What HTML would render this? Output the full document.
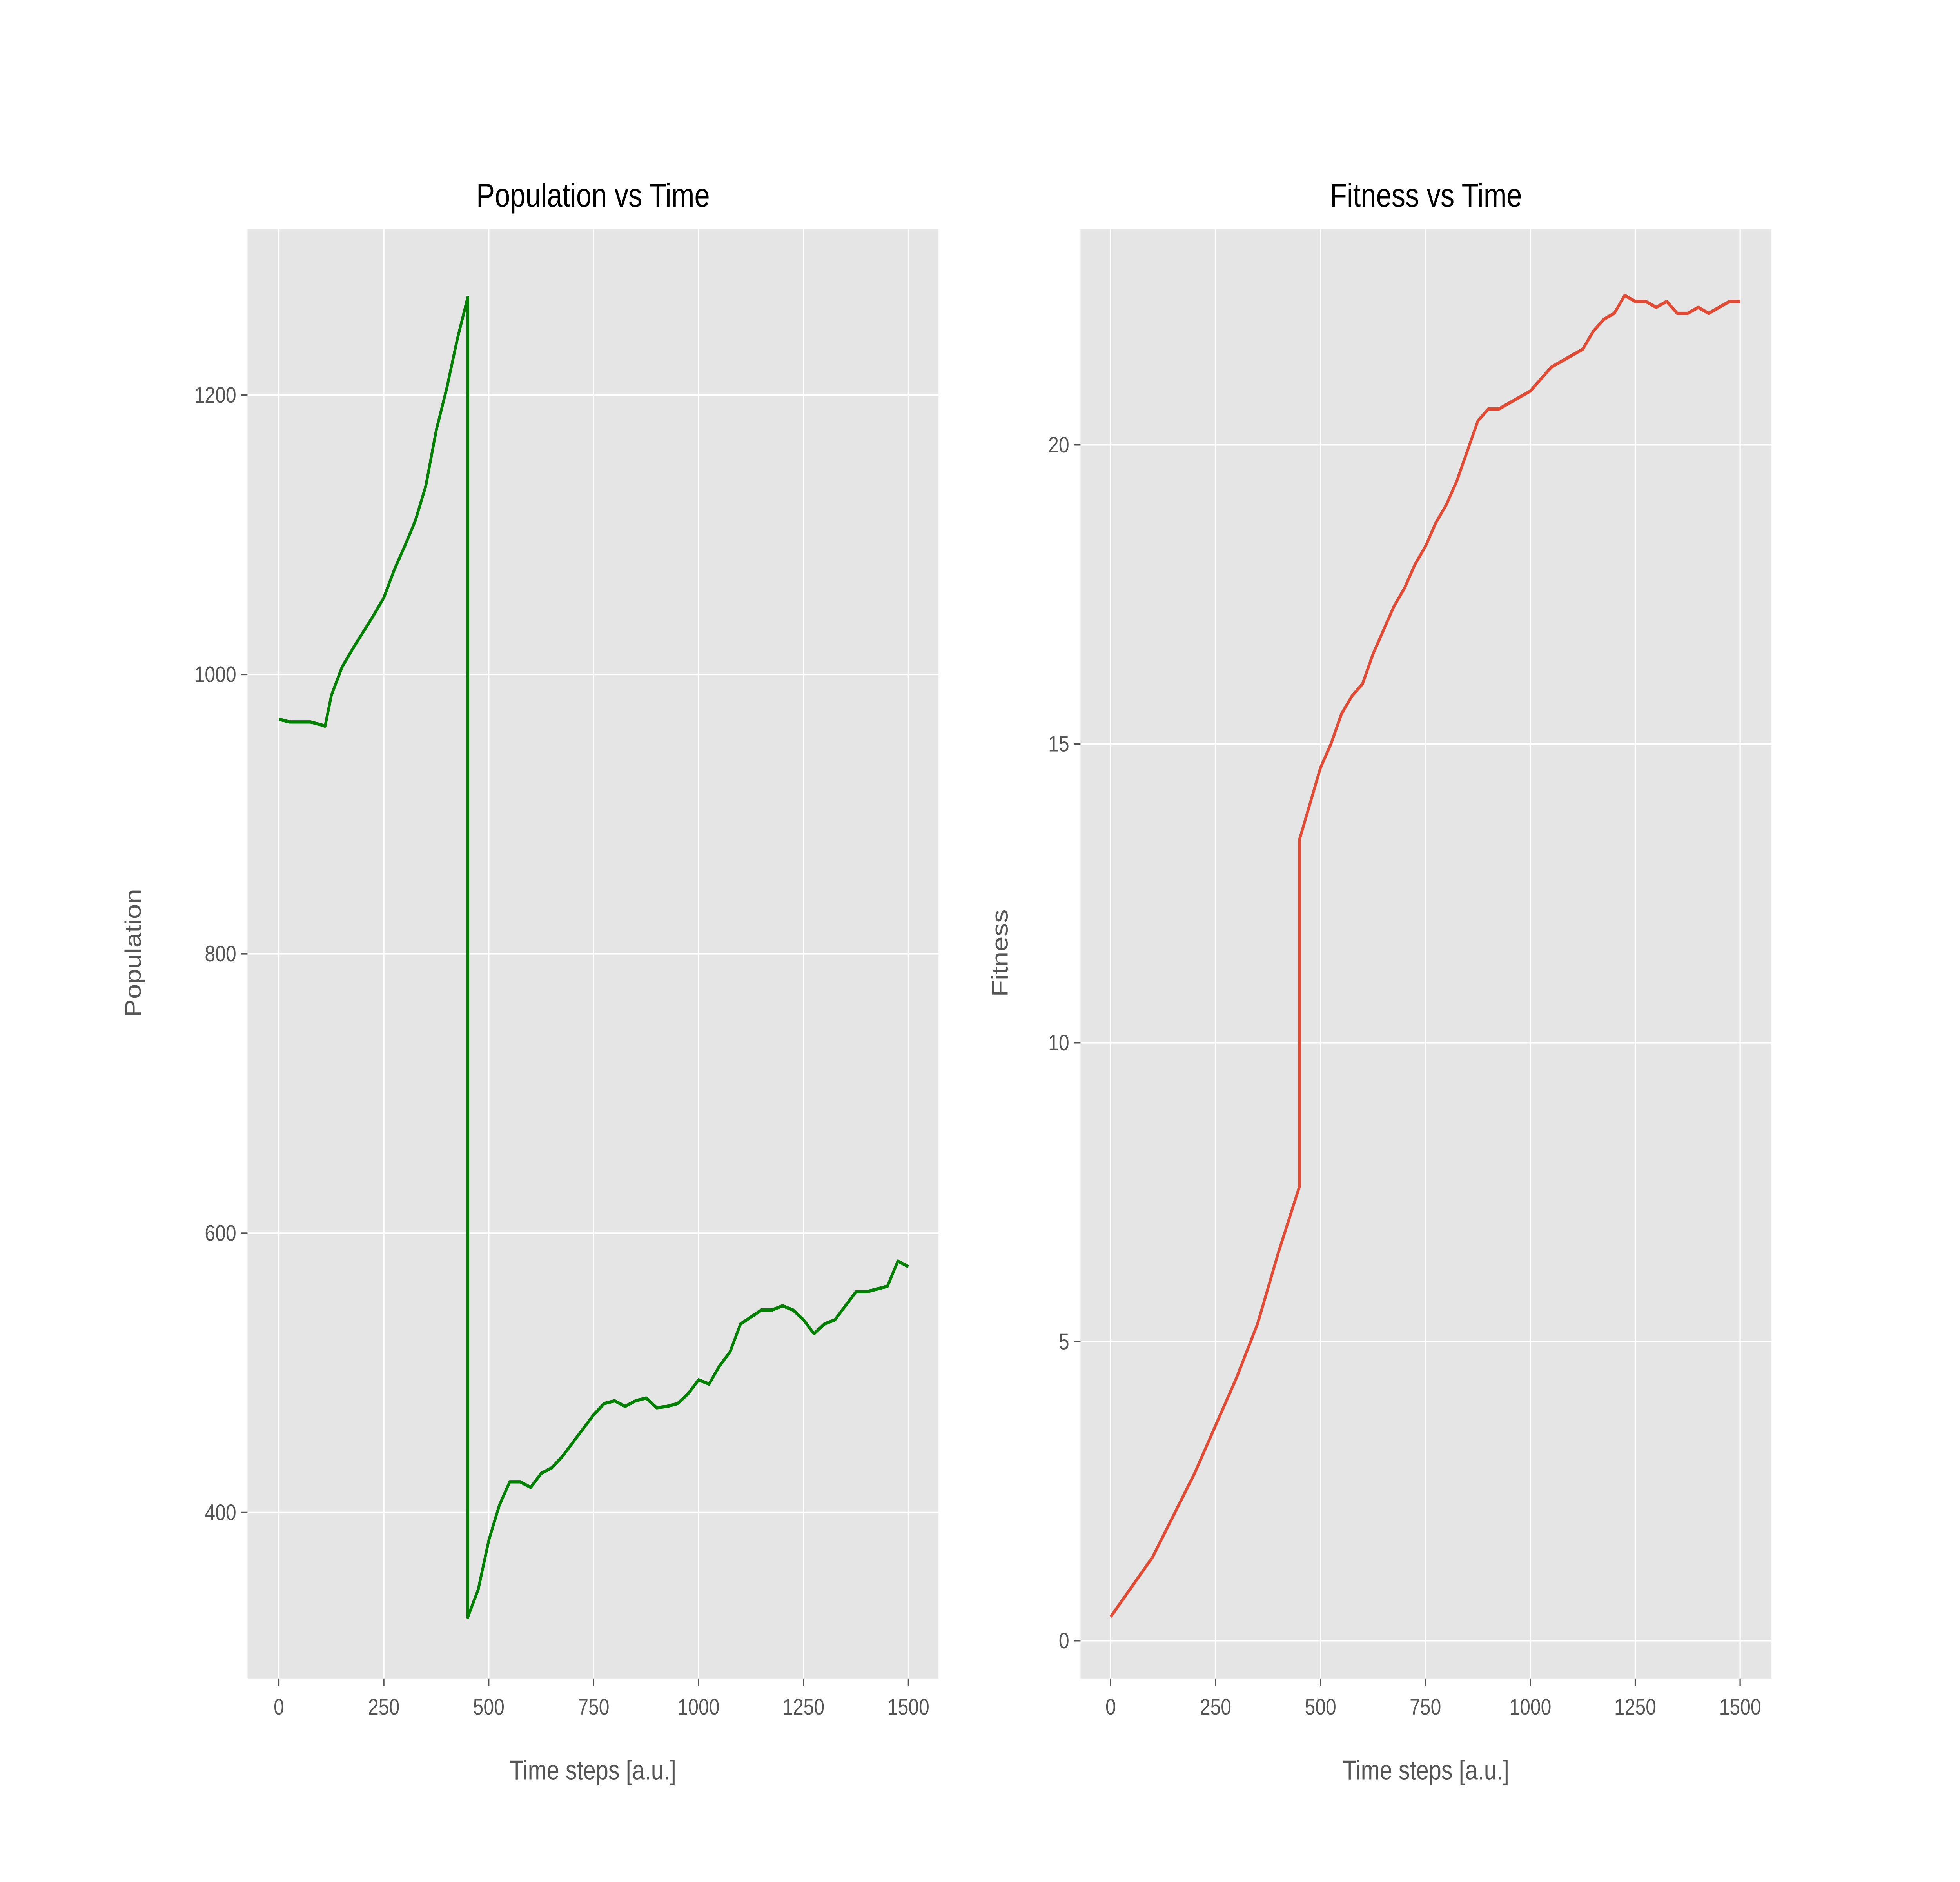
<!DOCTYPE html>
<html><head><meta charset="utf-8">
<style>html,body{margin:0;padding:0;background:#fff;overflow:hidden;width:100%;height:100%}svg{display:block;position:fixed;left:0;top:0;width:100vw;height:100vh}text{font-family:"Liberation Sans","DejaVu Sans",sans-serif}</style>
</head><body>
<svg id="fig" viewBox="0 0 1560 1248" preserveAspectRatio="none" xmlns="http://www.w3.org/2000/svg">
<rect width="1560" height="1248" fill="#fff"/>
</svg>
<script>
const popTime = [0,25,50,75,100,110,125,150,175,200,225,250,275,300,325,350,375,400,425,450,450,475,500,525,550,575,600,625,650,675,700,725,750,775,800,825,850,875,900,925,950,975,1000,1025,1050,1075,1100,1125,1150,1175,1200,1225,1250,1275,1300,1325,1350,1375,1400,1425,1450,1475,1500];
const popValues = [968,966,966,966,964,963,985,1005,1018,1030,1042,1055,1075,1092,1110,1135,1175,1205,1240,1270,325,345,380,405,422,422,418,428,432,440,450,460,470,478,480,476,480,482,475,476,478,485,495,492,505,515,535,540,545,545,548,545,538,528,535,538,548,558,558,560,562,580,576];
const fitTime = [0,50,100,150,200,250,300,350,400,450,450,475,500,525,550,575,600,625,650,675,700,725,750,775,800,825,850,875,900,925,950,975,1000,1025,1050,1075,1100,1125,1150,1175,1200,1225,1250,1275,1300,1325,1350,1375,1400,1425,1450,1475,1500];
const fitValues = [0.4,0.9,1.4,2.1,2.8,3.6,4.4,5.3,6.5,7.6,13.4,14.0,14.6,15.0,15.5,15.8,16.0,16.5,16.9,17.3,17.6,18.0,18.3,18.7,19.0,19.4,19.9,20.4,20.6,20.6,20.7,20.8,20.9,21.1,21.3,21.4,21.5,21.6,21.9,22.1,22.2,22.5,22.4,22.4,22.3,22.4,22.2,22.2,22.3,22.2,22.3,22.4,22.4];
const xTicks = [0,250,500,750,1000,1250,1500];
const popTicks = [400,600,800,1000,1200];
const fitTicks = [0,5,10,15,20];

const svg = document.getElementById('fig');
const NS = 'http://www.w3.org/2000/svg';
function mk(tag, attrs, parent){const e=document.createElementNS(NS,tag);for(const k in attrs)e.setAttribute(k,attrs[k]);(parent||svg).appendChild(e);return e;}

function panel(o){
  const g = mk('g',{});
  
  
  const X = v => o.x0 + (v - o.xd0)/(o.xd1 - o.xd0)*(o.x1 - o.x0);
  const Y = v => o.y0 + (v - o.yd0)/(o.yd1 - o.yd0)*(o.y1 - o.y0);
  const bg = mk('rect',{x:o.L,y:152,width:550,height:961,fill:'#E5E5E5'},g);
  
  
  xTicks.forEach(t=>{
    const x=X(t);
    mk('line',{x1:x,x2:x,y1:152,y2:1113,stroke:'#fff','stroke-width':1},g);
    mk('line',{x1:x,x2:x,y1:1113,y2:1118,stroke:'#555','stroke-width':1},g);
    const tx=mk('text',{x:x,y:1137,'font-size':15,fill:'#555','text-anchor':'middle'},g);
    tx.textContent=t;
    
    
  });
  o.yTicks.forEach(t=>{
    const y=Y(t);
    mk('line',{x1:o.L,x2:o.L+550,y1:y,y2:y,stroke:'#fff','stroke-width':1},g);
    mk('line',{x1:o.L-5,x2:o.L,y1:y,y2:y,stroke:'#555','stroke-width':1},g);
    const tx=mk('text',{x:o.L-9,y:y+5,'font-size':15,fill:'#555','text-anchor':'end'},g);
    tx.textContent=t;
    
    
  });
  const pts=o.tx.map((t,i)=>X(t).toFixed(2)+','+Y(o.vals[i]).toFixed(2)).join(' ');
  const line=mk('polyline',{points:pts,fill:'none',stroke:o.color,'stroke-width':2.2,'stroke-linejoin':'round'},g);
  
  
  const ti=mk('text',{x:o.L+275,y:137,'font-size':22,fill:'#000','text-anchor':'middle'},g);
  ti.textContent=o.title;
  
  
  const xl=mk('text',{x:o.L+275,y:1180,'font-size':18,fill:'#555','text-anchor':'middle'},g);
  xl.textContent='Time steps [a.u.]';
  
  
  const yl=mk('text',{x:0,y:0,'font-size':18,fill:'#555','text-anchor':'middle',transform:`translate(${o.ylx},632) rotate(-90)`},g);
  yl.textContent=o.ylabel;
  
  
}
panel({name:'population-panel',L:197,x0:222,x1:723,xd0:0,xd1:1500,y0:1003,y1:262,yd0:400,yd1:1200,yTicks:popTicks,tx:popTime,vals:popValues,color:'#008000',title:'Population vs Time',ylabel:'Population',ylx:112});
panel({name:'fitness-panel',L:860,x0:884,x1:1385,xd0:0,xd1:1500,y0:1088,y1:295,yd0:0,yd1:20,yTicks:fitTicks,tx:fitTime,vals:fitValues,color:'#E24A33',title:'Fitness vs Time',ylabel:'Fitness',ylx:802});
</script>
</body></html>
